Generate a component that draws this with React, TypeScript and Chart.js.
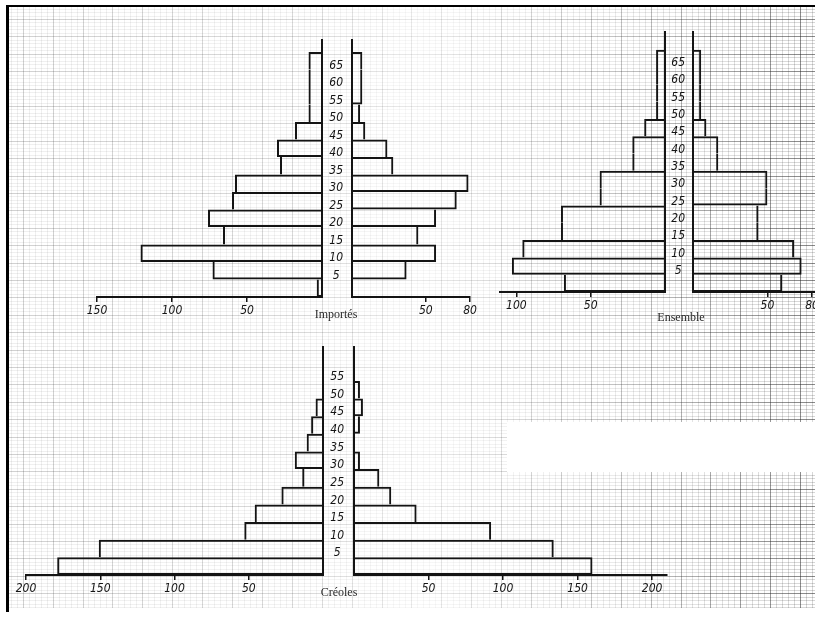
import React, { useEffect, useRef } from "react";
import { Chart, registerables } from "chart.js";

Chart.register(...registerables);

// ---------- Données ----------
// Bornes des classes d'âge (années) et effectif de chaque classe, côté gauche / côté droit.
const importesBornesGauche = [0, 5, 10, 15, 20, 25, 30, 35, 40, 45, 50, 70];
const importesGauche = [3.5, 73, 121, 66, 76, 60, 58, 28, 30, 18, 9];
const importesBornesDroite = [0, 5, 10, 15, 20, 25, 30, 35, 40, 45, 50, 55, 70];
const importesDroite = [0, 37, 57, 45, 57, 71, 79, 28, 24, 9, 5.5, 7];

const ensembleBornes = [0, 5, 10, 15, 25, 35, 45, 50, 70];
const ensembleGauche = [68, 103, 96, 70, 44, 22, 14, 6];
const ensembleDroite = [60, 73, 68, 44, 50, 17, 9, 5.5];

const creolesBornes = [0, 5, 10, 15, 20, 25, 30, 35, 40, 45, 50, 55];
const creolesGauche = [179, 151, 53, 46, 28, 14, 19, 11, 8, 5, 0];
const creolesDroite = [160, 134, 92, 42, 25, 17, 4, 0, 4, 6, 4];

// Graduations des âges (axe central) et des effectifs (axes horizontaux)
const agesImportes = [5, 10, 15, 20, 25, 30, 35, 40, 45, 50, 55, 60, 65];
const agesEnsemble = [5, 10, 15, 20, 25, 30, 35, 40, 45, 50, 55, 60, 65];
const agesCreoles = [5, 10, 15, 20, 25, 30, 35, 40, 45, 50, 55];
const graduationsImportesGauche = [50, 100, 150];
const graduationsImportesDroite = [50, 80];
const graduationsEnsembleGauche = [50, 100];
const graduationsEnsembleDroite = [50, 80];
const graduationsCreolesGauche = [50, 100, 150, 200];
const graduationsCreolesDroite = [50, 100, 150, 200];

// ---------- Mise en page ----------
const PAGE_W = 815;
const PAGE_H = 619;
const INK = "#141414";
const HAND =
  "'Liberation Sans Narrow', 'DejaVu Sans Condensed', 'Liberation Sans', sans-serif";
const SERIF = "'Liberation Serif', 'DejaVu Serif', serif";
const PAD = { l: 16, r: 16, t: 20, b: 4 };
const AXIS_H = 26;
const BAND = 5;
const LINE = 2;

type Area = { x0: number; x1: number; y0: number; y1: number };
type SideSpec = {
  area: Area;
  max: number;
  bornes: number[];
  values: number[];
  ticks: number[];
};
type PyramidSpec = {
  titre: string;
  titreX: number;
  titreBase: number;
  ages: number[];
  ageMax: number;
  gauche: SideSpec;
  droite: SideSpec;
};

const pyramides: PyramidSpec[] = [
  {
    titre: "Importés",
    titreX: 336,
    titreBase: 318,
    ages: agesImportes,
    ageMax: 73.4,
    gauche: {
      area: { x0: 97, x1: 322, y0: 40, y1: 297 },
      max: 150,
      bornes: importesBornesGauche,
      values: importesGauche,
      ticks: graduationsImportesGauche,
    },
    droite: {
      area: { x0: 352, x1: 470, y0: 40, y1: 297 },
      max: 80,
      bornes: importesBornesDroite,
      values: importesDroite,
      ticks: graduationsImportesDroite,
    },
  },
  {
    titre: "Ensemble",
    titreX: 681,
    titreBase: 321,
    ages: agesEnsemble,
    ageMax: 75.1,
    gauche: {
      area: { x0: 500, x1: 665, y0: 32, y1: 292 },
      max: 111,
      bornes: ensembleBornes,
      values: ensembleGauche,
      ticks: graduationsEnsembleGauche,
    },
    droite: {
      area: { x0: 693, x1: 815, y0: 32, y1: 292 },
      max: 82,
      bornes: ensembleBornes,
      values: ensembleDroite,
      ticks: graduationsEnsembleDroite,
    },
  },
  {
    titre: "Créoles",
    titreX: 339,
    titreBase: 596,
    ages: agesCreoles,
    ageMax: 64.6,
    gauche: {
      area: { x0: 26, x1: 323, y0: 347, y1: 575 },
      max: 200,
      bornes: creolesBornes,
      values: creolesGauche,
      ticks: graduationsCreolesGauche,
    },
    droite: {
      area: { x0: 354, x1: 667, y0: 347, y1: 575 },
      max: 210,
      bornes: creolesBornes,
      values: creolesDroite,
      ticks: graduationsCreolesDroite,
    },
  },
];

// Each age class is spread over the 5-year bands it covers.
type Pt = { x: number; y: number; cls: number };
function toBands(bornes: number[], values: number[]): Pt[] {
  const pts: Pt[] = [];
  values.forEach((v, c) => {
    for (let a = bornes[c]; a < bornes[c + 1]; a += BAND) {
      pts.push({ x: v, y: a + BAND / 2, cls: c });
    }
  });
  return pts;
}

// Outline of a class: the wider of two neighbouring classes draws the shared edge,
// bands of the same class are left open between them.
function edges(pts: Pt[], gauche: boolean) {
  return (ctx: any) => {
    const i = ctx.dataIndex;
    const p = pts[i];
    if (!p) return 0;
    const below = pts[i - 1];
    const above = pts[i + 1];
    let top = 0;
    let bottom = 0;
    if (!above) top = LINE;
    else if (above.cls !== p.cls && p.x >= above.x) top = LINE;
    if (!below) bottom = LINE;
    else if (below.cls !== p.cls && p.x > below.x) bottom = LINE;
    const outer = p.x > 0 ? LINE : 0;
    return gauche
      ? { top, bottom, left: outer, right: 0 }
      : { top, bottom, left: 0, right: outer };
  };
}

function frame(area: Area, gap: number) {
  return {
    left: area.x0 - PAD.l - gap,
    top: area.y0 - PAD.t,
    width: area.x1 - area.x0 + PAD.l + PAD.r + gap,
    height: area.y1 - area.y0 + PAD.t + AXIS_H + PAD.b,
  };
}

function buildConfig(
  spec: SideSpec,
  gauche: boolean,
  ages: number[],
  ageMax: number,
  gap: number
): any {
  const pts = toBands(spec.bornes, spec.values);
  const ticks = [...spec.ticks].sort((a, b) => (gauche ? b - a : a - b));
  const font = { family: HAND, size: 12, style: "italic" as const };
  return {
    type: "bar",
    data: {
      datasets: [
        {
          data: pts,
          backgroundColor: "rgba(0,0,0,0)",
          borderColor: INK,
          borderWidth: edges(pts, gauche),
          borderSkipped: false,
          inflateAmount: 0,
          barPercentage: 1,
          categoryPercentage: 1,
        },
      ],
    },
    options: {
      indexAxis: "y",
      animation: false,
      responsive: false,
      maintainAspectRatio: false,
      devicePixelRatio: 1,
      events: [],
      layout: {
        padding: { left: PAD.l, right: PAD.r, top: PAD.t, bottom: PAD.b },
      },
      plugins: {
        legend: { display: false },
        tooltip: { enabled: false },
        title: { display: false },
      },
      scales: {
        x: {
          type: "linear",
          min: 0,
          max: spec.max,
          reverse: gauche,
          afterBuildTicks: (s: any) => {
            s.ticks = ticks.map((value) => ({ value }));
          },
          afterFit: (s: any) => {
            s.height = AXIS_H;
          },
          grid: {
            display: true,
            drawOnChartArea: false,
            drawTicks: true,
            tickLength: 5,
            color: INK,
            lineWidth: 1.5,
          },
          border: { display: true, color: INK, width: LINE },
          ticks: {
            color: INK,
            font,
            padding: 2,
            autoSkip: false,
            maxRotation: 0,
            minRotation: 0,
          },
        },
        y: {
          type: "linear",
          min: 0,
          max: ageMax,
          offset: false,
          position: gauche ? "right" : "left",
          afterBuildTicks: (s: any) => {
            s.ticks = ages.map((value) => ({ value }));
          },
          afterFit: (s: any) => {
            s.width = gauche ? 0 : gap;
          },
          grid: { display: false, drawTicks: false },
          border: { display: true, color: INK, width: LINE },
          ticks: {
            display: !gauche,
            color: INK,
            font,
            padding: Math.round(gap / 2 - 6),
            crossAlign: "center",
            labelOffset: -4,
            autoSkip: false,
          },
        },
      },
    },
  };
}

function Side({
  spec,
  gauche,
  ages,
  ageMax,
  gap,
}: {
  spec: SideSpec;
  gauche: boolean;
  ages: number[];
  ageMax: number;
  gap: number;
}) {
  const ref = useRef<HTMLCanvasElement>(null);
  const f = frame(spec.area, gauche ? 0 : gap);
  useEffect(() => {
    const chart = new Chart(
      ref.current as HTMLCanvasElement,
      buildConfig(spec, gauche, ages, ageMax, gap)
    );
    return () => chart.destroy();
  }, []);
  return (
    <canvas
      ref={ref}
      width={f.width}
      height={f.height}
      style={{
        position: "absolute",
        left: f.left,
        top: f.top,
        width: f.width,
        height: f.height,
      }}
    />
  );
}

// Millimetre paper: faint minor lines, stronger lines every fifth one.
function Paper() {
  const ref = useRef<HTMLCanvasElement>(null);
  useEffect(() => {
    const ctx = (ref.current as HTMLCanvasElement).getContext("2d")!;
    ctx.fillStyle = "#fff";
    ctx.fillRect(0, 0, PAGE_W, PAGE_H);
    const X0 = 9, Y0 = 7, X1 = PAGE_W, Y1 = 608;
    const stops: [number, number][] = [
      [0, 0.075],
      [300, 0.06],
      [420, 0.035],
      [520, 0.065],
      [650, 0.11],
      [815, 0.19],
    ];
    const MAJOR = 2.9;
    const shade = (x: number) => {
      for (let i = 1; i < stops.length; i++) {
        const [xa, a] = stops[i - 1];
        const [xb, b] = stops[i];
        if (x <= xb) return a + ((b - a) * (x - xa)) / (xb - xa);
      }
      return stops[stops.length - 1][1];
    };
    const majorW = 29.9, majorH = 17.4, ox = 22.7, oy = 19;
    ctx.lineWidth = 1;
    for (let k = Math.ceil(((X0 - ox) * 5) / majorW); ; k++) {
      const x = ox + (k * majorW) / 5;
      if (x > X1) break;
      const major = k % 5 === 0;
      const a = Math.min(1, shade(x) * (major ? MAJOR : 1));
      ctx.strokeStyle = `rgba(40,40,40,${a})`;
      ctx.beginPath();
      ctx.moveTo(Math.round(x) + 0.5, Y0);
      ctx.lineTo(Math.round(x) + 0.5, Y1);
      ctx.stroke();
    }
    const grad = (mult: number) => {
      const g = ctx.createLinearGradient(0, 0, PAGE_W, 0);
      stops.forEach(([x, a]) =>
        g.addColorStop(x / PAGE_W, `rgba(40,40,40,${Math.min(1, a * mult)})`)
      );
      return g;
    };
    const minorG = grad(1);
    const majorG = grad(MAJOR);
    for (let k = Math.ceil(((Y0 - oy) * 5) / majorH); ; k++) {
      const y = oy + (k * majorH) / 5;
      if (y > Y1) break;
      ctx.strokeStyle = k % 5 === 0 ? majorG : minorG;
      ctx.beginPath();
      ctx.moveTo(X0, Math.round(y) + 0.5);
      ctx.lineTo(X1, Math.round(y) + 0.5);
      ctx.stroke();
    }
    // blank patch on the sheet
    ctx.fillStyle = "#fff";
    ctx.fillRect(507, 422, PAGE_W - 507, 50);
    // frame of the sheet
    ctx.fillStyle = "#000";
    ctx.fillRect(6, 5, PAGE_W - 6, 2);
    ctx.fillRect(6, 5, 3, 607);
  }, []);
  return (
    <canvas
      ref={ref}
      width={PAGE_W}
      height={PAGE_H}
      style={{ position: "absolute", left: 0, top: 0, width: PAGE_W, height: PAGE_H }}
    />
  );
}

export default function App() {
  return (
    <div
      style={{
        position: "absolute",
        left: 0,
        top: 0,
        width: PAGE_W,
        height: PAGE_H,
        overflow: "hidden",
        background: "#fff",
      }}
    >
      <Paper />
      {pyramides.map((p) => {
        const gap = p.droite.area.x0 - p.gauche.area.x1;
        return (
          <React.Fragment key={p.titre}>
            <Side spec={p.gauche} gauche={true} ages={p.ages} ageMax={p.ageMax} gap={gap} />
            <Side spec={p.droite} gauche={false} ages={p.ages} ageMax={p.ageMax} gap={gap} />
            <div
              style={{
                position: "absolute",
                left: p.titreX - 50,
                top: p.titreBase - 10,
                width: 100,
                textAlign: "center",
                fontFamily: SERIF,
                fontSize: 12,
                lineHeight: "12px",
                color: "#2a2a2a",
              }}
            >
              {p.titre}
            </div>
          </React.Fragment>
        );
      })}
    </div>
  );
}
